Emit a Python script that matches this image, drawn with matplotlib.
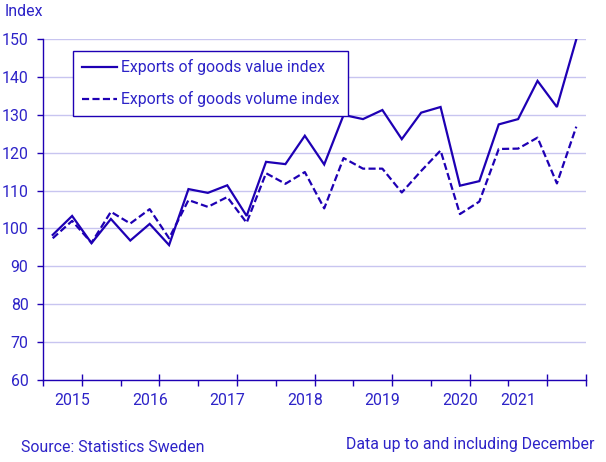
import matplotlib
matplotlib.use("Agg")
from matplotlib import pyplot as plt

# Quarterly index values, 2015 Q1 .. 2021 Q4
value_index = [98.3, 103.3, 96.1, 102.5, 96.8, 101.2, 95.6,
               110.4, 109.4, 111.4, 103.3, 117.6, 117.0, 124.5,
               116.9, 130.0, 128.9, 131.3, 123.6, 130.6, 132.1,
               111.3, 112.5, 127.5, 128.9, 139.0, 132.1, 150.0]
volume_index = [97.4, 102.0, 96.2, 104.4, 101.3, 105.1, 97.4,
                107.5, 105.7, 108.3, 101.5, 114.6, 111.8, 114.9,
                105.3, 118.6, 115.8, 115.8, 109.5, 115.2, 120.6,
                103.8, 107.1, 121.0, 121.1, 124.0, 111.9, 126.9]
year_labels = ["2015", "2016", "2017", "2018", "2019", "2020", "2021"]
year_label_pos = [1, 5, 9, 13, 17, 21, 24]

lineColor = "#1e00b4"
textColor = "#2d23c8"
gridColor = "#c8c5f0"
fs = 11.4

plt.rcParams["font.family"] = ["Roboto", "DejaVu Sans"]
plt.rcParams["font.size"] = fs

fig = plt.figure(figsize=(6.06, 4.62), dpi=100)
ax = fig.add_axes([0.071, 0.178, 0.896, 0.737])

x = [i + 0.5 for i in range(len(value_index))]
ax.plot(x, value_index, color=lineColor, lw=1.6, label="Exports of goods value index",
        solid_joinstyle="miter")
ax.plot(x, volume_index, color=lineColor, lw=1.6, dashes=(3.2, 1.5),
        label="Exports of goods volume index")

ax.set_xlim(0, len(value_index))
ax.set_ylim(60, 150)
ax.set_yticks(range(60, 151, 10))
ax.yaxis.grid(True, color=gridColor, lw=1)
ax.set_axisbelow(True)

# ticks: every second quarter, crossing ticks at 2, 6, 10 ...
cross = [2, 6, 10, 14, 18, 22, 26, 28]
out = [t for t in range(0, 29, 2) if t not in cross]
ax.set_xticks(cross)
ax.set_xticks(out, minor=True)
ax.tick_params(axis="x", which="major", direction="inout", length=8, width=1,
               color=lineColor, labelbottom=False)
ax.tick_params(axis="x", which="minor", direction="out", length=4, width=1,
               color=lineColor)
ax.tick_params(axis="y", direction="out", length=4, width=1, color=lineColor,
               labelcolor=textColor, pad=6.5, labelsize=fs)
for lab, p in zip(year_labels, year_label_pos):
    ax.text(p + 0.5, -0.06, lab, transform=ax.get_xaxis_transform(),
            ha="center", va="center", color=textColor, fontsize=fs)

for s in ["top", "right"]:
    ax.spines[s].set_visible(False)
for s in ["left", "bottom"]:
    ax.spines[s].set_color(lineColor)
    ax.spines[s].set_linewidth(1)

leg = ax.legend(loc="upper left", bbox_to_anchor=(0.0552, 0.9665), borderaxespad=0,
                fancybox=False, framealpha=1, edgecolor=lineColor, labelcolor=textColor,
                handlelength=2.2, handletextpad=0.3, labelspacing=1.0, borderpad=0.55,
                fontsize=fs)
leg.get_frame().set_linewidth(1)

fig.text(5 / 606, 1 - 12 / 462, "Index", color=textColor, fontsize=fs, ha="left", va="center")
fig.text(21 / 606, 1 - 447 / 462, "Source: Statistics Sweden", color=textColor,
         fontsize=fs, ha="left", va="center")
fig.text(594 / 606, 1 - 444 / 462, "Data up to and including December", color=textColor,
         fontsize=fs, ha="right", va="center")

plt.savefig("out.png", dpi=100)
plt.close()
